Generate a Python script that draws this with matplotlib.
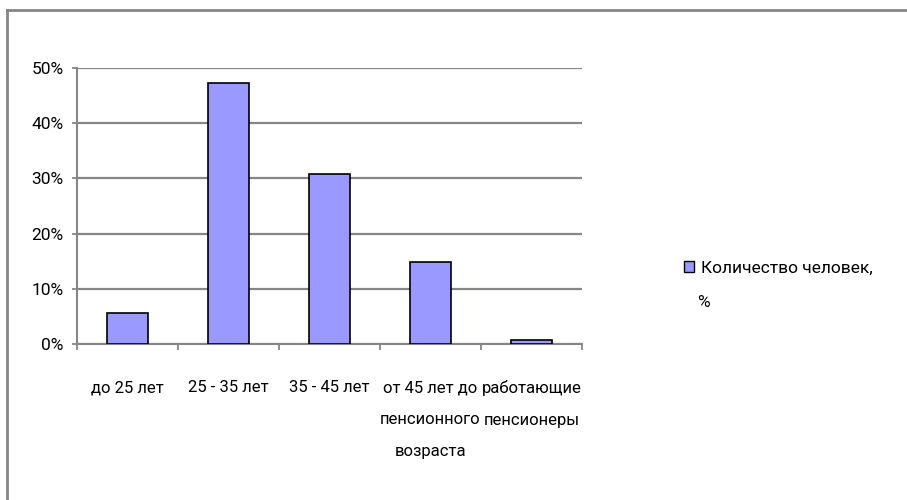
import numpy as np
import matplotlib.pyplot as plt
from matplotlib.lines import Line2D

plt.rcParams['font.family'] = ['Roboto', 'DejaVu Sans']
plt.rcParams['font.stretch'] = 'condensed'

categories = ['до 25 лет', '25 - 35 лет', '35 - 45 лет',
              'от 45 лет до\nпенсионного\nвозраста', 'работающие\nпенсионеры']
values = [0.056, 0.473, 0.308, 0.149, 0.007]
series_name = 'Количество человек,\n%'

fig = plt.figure(figsize=(9.07, 5.0), dpi=100)
ax = fig.add_axes([0.0849, 0.312, 0.5568, 0.552])

x = np.arange(len(categories))
name_lines = series_name.split('\n')
ax.bar(x, values, width=0.41, color='#9999FF', edgecolor='black',
       linewidth=1.2, label=name_lines[0], zorder=3)

ax.set_xlim(-0.5, len(categories) - 0.5)
ax.set_ylim(0, 0.5)
ax.set_yticks(np.arange(0, 0.51, 0.1))
ax.set_yticklabels([f'{int(round(v * 100))}%' for v in np.arange(0, 0.51, 0.1)])
ax.yaxis.grid(True, color='#868686', linewidth=1.6, zorder=0)

# category labels sit between boundary ticks
ax.set_xticks(x)
ax.set_xticklabels(categories, linespacing=2.4, va='top')
ax.set_xticks(np.arange(-0.5, len(categories)), minor=True)
ax.tick_params(axis='x', which='major', length=0, pad=26, labelsize=12)
ax.tick_params(axis='x', which='minor', length=4, width=1.3, color='#868686',
               direction='out')
ax.tick_params(axis='y', length=3.6, width=1.3, color='#868686', labelsize=12.5,
               pad=6)

for side in ['top', 'right']:
    ax.spines[side].set_visible(False)
for side in ['left', 'bottom']:
    ax.spines[side].set_color('#868686')
    ax.spines[side].set_linewidth(1.5)

# legend: first line next to the swatch, the rest wrapped below
leg = fig.legend(loc='upper left', bbox_to_anchor=(0.737, 0.51),
                 frameon=False, fontsize=12.5, handlelength=0.55,
                 handleheight=0.6, handletextpad=0.45)
for h in leg.legend_handles:
    h.set_linewidth(1.0)
fig.text(0.769, 0.395, name_lines[1], fontsize=12.5, va='center', ha='left')

# outer chart border (top and left edges)
fig.add_artist(Line2D([0.0077, 1.0], [0.98, 0.98], color='#868686',
                      linewidth=2, transform=fig.transFigure))
fig.add_artist(Line2D([0.0077, 0.0077], [0.0, 0.98], color='#868686',
                      linewidth=2, transform=fig.transFigure))

fig.savefig('out.png', dpi=100)
